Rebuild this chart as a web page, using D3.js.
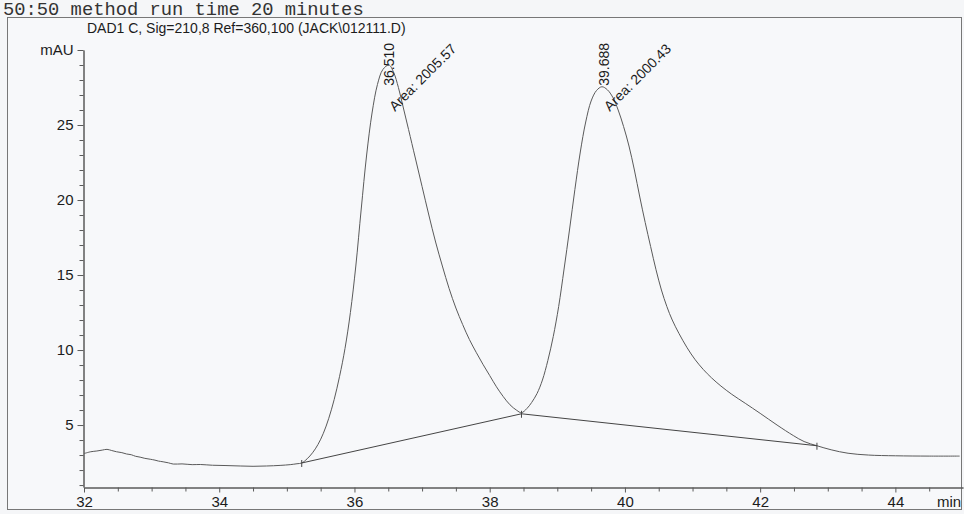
<!DOCTYPE html>
<html>
<head>
<meta charset="utf-8">
<script src="https://cdn.jsdelivr.net/npm/d3@7"></script>
<style>
  body { margin: 0; background: #f5f6f8; }
  svg { display: block; font-family: "Liberation Sans", Arial, sans-serif; }
</style>
</head>
<body>
<div id="chart"></div>
<script>
const width = 964;
const height = 514;

// Retention time (min)
const times = [
  32.00, 32.10, 32.19, 32.27, 32.34, 32.41, 32.48, 32.56, 32.63, 32.70,
  32.76, 32.83, 32.90, 32.98, 33.05, 33.10, 33.17, 33.25, 33.32, 33.45,
  33.60, 33.72, 33.90, 34.10, 34.31, 34.50, 34.70, 34.90, 35.05, 35.15,
  35.22, 35.30, 35.38, 35.46, 35.54, 35.62, 35.70, 35.78, 35.86, 35.94,
  36.02, 36.10, 36.18, 36.26, 36.34, 36.42, 36.51, 36.58, 36.65, 36.72,
  36.80, 36.90, 37.00, 37.10, 37.20, 37.30, 37.40, 37.50, 37.60, 37.70,
  37.80, 37.90, 38.00, 38.10, 38.20, 38.30, 38.40, 38.47, 38.55, 38.62,
  38.70, 38.78, 38.86, 38.94, 39.02, 39.10, 39.18, 39.26, 39.34, 39.42,
  39.50, 39.58, 39.66, 39.74, 39.82, 39.90, 39.98, 40.06, 40.14, 40.22,
  40.30, 40.38, 40.46, 40.54, 40.62, 40.70, 40.80, 40.92, 41.04, 41.16,
  41.28, 41.42, 41.58, 41.78, 42.00, 42.25, 42.49, 42.65, 42.84, 43.05,
  43.30, 43.60, 44.00, 44.50, 44.95
];

// Detector signal (mAU) at those times
const signal = [
  3.10, 3.22, 3.27, 3.33, 3.38, 3.30, 3.22, 3.16, 3.07, 3.02,
  2.92, 2.86, 2.78, 2.72, 2.66, 2.60, 2.55, 2.48, 2.40, 2.41,
  2.36, 2.37, 2.32, 2.30, 2.27, 2.25, 2.27, 2.31, 2.36, 2.42,
  2.47, 2.75, 3.15, 3.70, 4.45, 5.45, 6.70, 8.25, 10.1, 12.5,
  15.6, 19.4, 23.0, 25.8, 27.7, 28.7, 29.0, 28.5, 27.5, 26.2,
  24.7, 22.8, 20.9, 19.0, 17.2, 15.6, 14.1, 12.8, 11.7, 10.7,
  9.85, 9.05, 8.30, 7.55, 6.90, 6.35, 5.98, 5.82, 6.10, 6.50,
  7.10, 8.00, 9.30, 10.9, 12.9, 15.4, 18.0, 20.7, 23.2, 25.2,
  26.6, 27.3, 27.55, 27.35, 26.85, 26.0, 24.9, 23.6, 22.0, 20.2,
  18.5, 16.9, 15.35, 14.0, 12.9, 12.0, 11.1, 10.15, 9.35, 8.70,
  8.15, 7.60, 7.05, 6.45, 5.78, 5.00, 4.30, 3.90, 3.62, 3.35,
  3.12, 3.00, 2.95, 2.93, 2.93
];

// Integration baseline drop points
const baseTimes = [35.22, 38.47, 42.84];
const baseValues = [2.47, 5.75, 3.62];

// Peak annotations
const peakTimes = [36.51, 39.688];
const peakLabels = ["36.510", "39.688"];
const areaLabels = ["Area: 2005.57", "Area: 2000.43"];

// Axis ticks
const xMajorTicks = [32, 34, 36, 38, 40, 42, 44];
const yMajorTicks = [5, 10, 15, 20, 25, 30];

const svg = d3.select("#chart")
    .append("svg")
    .attr("width", width)
    .attr("height", height);

// Scales
const x = d3.scaleLinear().domain([32, 45]).range([84, 963]);
const y = d3.scaleLinear().domain([0.87, 30]).range([487, 50]);

const ink = "#1c1c1c";
const lineGray = "#5a5a5a";

// Header text above the frame
svg.append("text")
    .attr("x", 3)
    .attr("y", 15)
    .attr("font-family", "'Liberation Mono', 'DejaVu Sans Mono', monospace")
    .attr("font-size", 18.8)
    .attr("fill", "#333")
    .text("50:50 method run time 20 minutes");

// Frame
svg.append("rect")
    .attr("x", 7.5)
    .attr("y", 17.5)
    .attr("width", 954)
    .attr("height", 492)
    .attr("fill", "#f7f8fa")
    .attr("stroke", "#777")
    .attr("stroke-width", 1);

svg.append("text")
    .attr("x", 87)
    .attr("y", 33)
    .attr("font-size", 14)
    .attr("fill", ink)
    .text("DAD1 C, Sig=210,8 Ref=360,100 (JACK\\012111.D)");

// Y axis
const yAxis = d3.axisLeft(y)
    .tickValues(yMajorTicks)
    .tickSize(6)
    .tickSizeOuter(0)
    .tickPadding(4)
    .tickFormat(d => d === 30 ? "mAU" : d);

const yMinor = d3.axisLeft(y)
    .tickValues(d3.range(1, 30).filter(d => d % 5 !== 0))
    .tickSize(4)
    .tickSizeOuter(0)
    .tickFormat("");

svg.append("g").attr("transform", "translate(83.5,0)").call(yAxis);
svg.append("g").attr("transform", "translate(83.5,0)").call(yMinor);

// X axis
const xAxis = d3.axisBottom(x)
    .tickValues(xMajorTicks)
    .tickSize(5)
    .tickSizeOuter(0)
    .tickPadding(4);

const xMinor = d3.axisBottom(x)
    .tickValues(d3.range(32.5, 45, 0.5).filter(d => !xMajorTicks.includes(d)))
    .tickSize(4)
    .tickSizeOuter(0)
    .tickFormat("");

svg.append("g").attr("transform", "translate(0,487.5)").call(xAxis);
svg.append("g").attr("transform", "translate(0,487.5)").call(xMinor);

svg.selectAll(".domain, .tick line").attr("stroke", lineGray);
svg.selectAll(".tick text")
    .attr("font-size", 15)
    .attr("font-family", "'Liberation Sans', Arial, sans-serif")
    .attr("fill", ink);

svg.append("text")
    .attr("x", 937)
    .attr("y", 507)
    .attr("font-size", 15)
    .attr("fill", ink)
    .text("min");

// Chromatogram trace
const trace = times.map((t, i) => [t, signal[i]]);
const line = d3.line()
    .x(d => x(d[0]))
    .y(d => y(d[1]))
    .curve(d3.curveCatmullRom.alpha(0.5));

svg.append("path")
    .datum(trace)
    .attr("d", line)
    .attr("fill", "none")
    .attr("stroke", lineGray)
    .attr("stroke-width", 1);

// Integration baseline and drop marks
const base = baseTimes.map((t, i) => [t, baseValues[i]]);
svg.append("path")
    .datum(base)
    .attr("d", d3.line().x(d => x(d[0])).y(d => y(d[1])))
    .attr("fill", "none")
    .attr("stroke", "#444")
    .attr("stroke-width", 1);

svg.selectAll(".drop")
    .data(base)
    .enter()
    .append("line")
    .attr("class", "drop")
    .attr("x1", d => x(d[0]))
    .attr("x2", d => x(d[0]))
    .attr("y1", d => y(d[1]) - 3)
    .attr("y2", d => y(d[1]) + 4)
    .attr("stroke", "#444");

// Retention time labels (clamped at the top of the plot)
svg.selectAll(".rt")
    .data(peakTimes)
    .enter()
    .append("text")
    .attr("class", "rt")
    .attr("transform", d => `translate(${x(d) + 5},43) rotate(-90)`)
    .attr("text-anchor", "end")
    .attr("font-size", 14)
    .attr("fill", ink)
    .text((d, i) => peakLabels[i]);

svg.selectAll(".area")
    .data(peakTimes)
    .enter()
    .append("text")
    .attr("class", "area")
    .attr("transform", d => `translate(${x(d) + 6},112) rotate(-45)`)
    .attr("font-size", 14)
    .attr("fill", ink)
    .text((d, i) => areaLabels[i]);
</script>
</body>
</html>
